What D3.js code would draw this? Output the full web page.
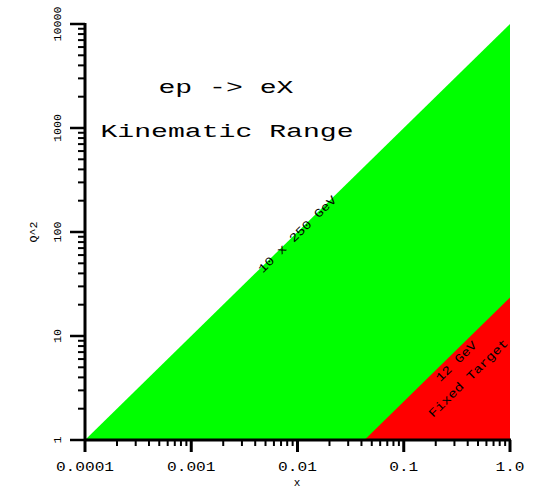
<!DOCTYPE html>
<html><head><meta charset="utf-8">
<script src="https://cdn.jsdelivr.net/npm/d3@7"></script>
<style>
html,body{margin:0;padding:0;background:#fff;}
svg{display:block;}
text{font-family:"Liberation Mono","DejaVu Sans Mono",monospace;fill:#000;}
</style></head>
<body>
<svg id="c" width="533" height="489"></svg>
<script>
// ---- data ----
const xTickValues = [0.0001, 0.001, 0.01, 0.1, 1.0];
const xTickLabels = ["0.0001", "0.001", "0.01", "0.1", "1.0"];
const yTickValues = [1, 10, 100, 1000, 10000];
const yTickLabels = ["1", "10", "100", "1000", "10000"];
// 10 x 250 GeV collider region (Q^2 = s x, s = 10000)
const colliderX = [0.0001, 1, 1];
const colliderQ2 = [1, 10000, 1];
// 12 GeV fixed target region (Q^2 = s x, s ~ 23.4)
const fixedX = [0.0427, 1, 1];
const fixedQ2 = [1, 23.4, 1];

const svg = d3.select("#c");
const x = d3.scaleLog().domain([1e-4, 1]).range([85, 510]);
const y = d3.scaleLog().domain([1, 1e4]).range([440, 24]);

const line = d3.line().x(d => x(d[0])).y(d => y(d[1]));
svg.append("path").attr("d", line(d3.zip(colliderX, colliderQ2)) + "Z").attr("fill", "#00ff00");
svg.append("path").attr("d", line(d3.zip(fixedX, fixedQ2)) + "Z").attr("fill", "#ff0000");

// minor ticks
function minors(dom) {
  const out = [];
  for (let e = Math.log10(dom[0]); e < Math.log10(dom[1]); e++) {
    for (let k = 2; k <= 9; k++) out.push(k * Math.pow(10, e));
  }
  return out;
}
const g = svg.append("g").attr("stroke", "#000");
// x axis
g.append("line").attr("x1", x(1e-4) - 1).attr("x2", x(1) + 1).attr("y1", 440).attr("y2", 440).attr("stroke-width", 3);
g.selectAll(".xmaj").data(xTickValues).join("line")
  .attr("x1", d => x(d)).attr("x2", d => x(d)).attr("y1", 440).attr("y2", 452).attr("stroke-width", 3);
g.selectAll(".xmin").data(minors([1e-4, 1])).join("line").attr("class", "xmin")
  .attr("x1", d => x(d)).attr("x2", d => x(d)).attr("y1", 440).attr("y2", 446).attr("stroke-width", 2);
// y axis
g.append("line").attr("x1", 85).attr("x2", 85).attr("y1", y(1e4) - 1).attr("y2", 441).attr("stroke-width", 3);
g.selectAll(".ymaj").data(yTickValues).join("line").attr("class", "ymaj")
  .attr("x1", 70).attr("x2", 85).attr("y1", d => y(d)).attr("y2", d => y(d)).attr("stroke-width", 2.5);
g.selectAll(".ymin").data(minors([1, 1e4])).join("line").attr("class", "ymin")
  .attr("x1", 78).attr("x2", 85).attr("y1", d => y(d)).attr("y2", d => y(d)).attr("stroke-width", 2);

// tick labels
svg.selectAll(".xl").data(xTickValues).join("text").attr("class", "xl")
  .attr("x", d => x(d)).attr("y", 471).attr("text-anchor", "middle")
  .attr("font-size", 12)
  .attr("textLength", (d, i) => xTickLabels[i].length * 9.7).attr("lengthAdjust", "spacingAndGlyphs")
  .text((d, i) => xTickLabels[i]);
svg.selectAll(".yl").data(yTickValues).join("text").attr("class", "yl")
  .attr("transform", d => `translate(61,${y(d)}) rotate(-90)`).attr("text-anchor", "middle")
  .attr("font-size", 11)
  .attr("textLength", (d, i) => yTickLabels[i].length * 7).attr("lengthAdjust", "spacingAndGlyphs")
  .text((d, i) => yTickLabels[i]);

// axis titles
svg.append("text").attr("x", 297).attr("y", 486).attr("text-anchor", "middle").attr("font-size", 11).text("x");
svg.append("text").attr("transform", "translate(37,232) rotate(-90)").attr("text-anchor", "middle").attr("font-size", 11)
  .attr("textLength", 21).attr("lengthAdjust", "spacingAndGlyphs").text("Q^2");

// titles
svg.append("text").attr("x", 226).attr("y", 93).attr("text-anchor", "middle").attr("font-size", 18)
  .attr("textLength", 135).attr("lengthAdjust", "spacingAndGlyphs").text("ep -> eX");
svg.append("text").attr("x", 227).attr("y", 137).attr("text-anchor", "middle").attr("font-size", 18)
  .attr("textLength", 253).attr("lengthAdjust", "spacingAndGlyphs").text("Kinematic Range");

// region labels
const ang = -Math.atan((y(1) - y(10)) / (x(0.1) - x(0.01))) * 180 / Math.PI;
function diag(cx, cy, txt, len) {
  svg.append("text").attr("transform", `translate(${cx},${cy}) rotate(${ang})`)
    .attr("text-anchor", "middle").attr("dy", "0.35em").attr("font-size", 12)
    .attr("textLength", len).attr("lengthAdjust", "spacingAndGlyphs").text(txt);
}
diag(297, 234, "10 x 250 GeV", 104);
diag(456, 361, "12 GeV", 52);
diag(468, 378, "Fixed Target", 106);
</script>
</body></html>
